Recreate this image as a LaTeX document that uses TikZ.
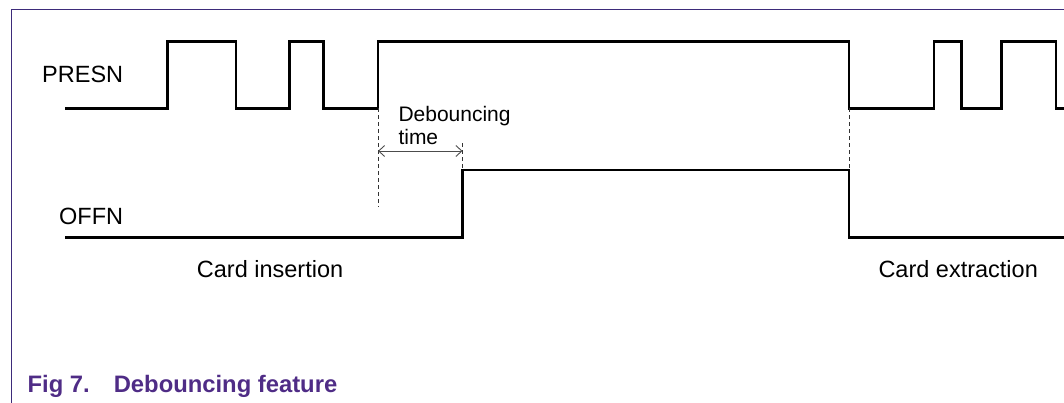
\documentclass[tikz,border=0pt]{standalone}
\usepackage{fontspec}
\setmainfont{Liberation Sans}
\usetikzlibrary{arrows.meta}
\definecolor{framepurple}{HTML}{3D2B7A}
\definecolor{cappurple}{HTML}{4F2C86}
\begin{document}
\begin{tikzpicture}[x=1pt,y=-1pt,
  signal/.style={line width=2.7pt,line join=miter},
  guide/.style={line width=0.8pt,dash pattern=on 4pt off 3pt,black!80},
  dim/.style={line width=0.9pt,black!70,{Straight Barb[length=6pt,width=11pt]}-{Straight Barb[length=6pt,width=11pt]}},
  lbl/.style={inner sep=0pt,anchor=base west,font=\fontsize{23.5}{28}\selectfont},
  smalllbl/.style={inner sep=0pt,anchor=base west,font=\fontsize{21}{25}\selectfont},
  captext/.style={inner sep=0pt,anchor=base west,font=\fontsize{23.8}{28}\selectfont\bfseries,text=cappurple}]
\useasboundingbox (0,0) rectangle (1064,403);
% frame
\draw[framepurple,line width=1pt] (11.5,403) -- (11.5,9.3) -- (1064,9.3);
% PRESN signal
\coordinate (pA) at (378,108.3);
\coordinate (pB) at (849,108.3);
\draw[signal] (65.4,108.3) -- (167.7,108.3) -- (167.7,41.7) -- (235.9,41.7) -- (235.9,108.3)
  -- (289.3,108.3) -- (289.3,41.7) -- (323.7,41.7) -- (323.7,108.3) -- (pA)
  -- (378,41.7) -- (849,41.7) -- (pB) -- (934,108.3) -- (934,41.7)
  -- (961.4,41.7) -- (961.4,108.3) -- (1001.6,108.3) -- (1001.6,41.7)
  -- (1056,41.7) -- (1056,108.3) -- (1066,108.3);
% OFFN signal
\coordinate (oA) at (462.5,170);
\coordinate (oB) at (849,170);
\draw[signal] (65.4,237.3) -- (462.5,237.3) -- (oA) -- (oB) -- (849,237.3) -- (1066,237.3);
% guides
\coordinate (gA) at (378,206.7);
\coordinate (gT) at (462.5,143.3);
\draw[guide] (pA) -- (gA);
\draw[guide] (pB) -- (oB);
\draw[guide] (gT) -- (oA);
\coordinate (dL) at (378,151);
\coordinate (dR) at (462.5,151);
\draw[dim] (dL) -- (dR);
% labels
\node[lbl] (presn) at (42,82.7) {PRESN};
\node[lbl] (offn) at (59,225) {OFFN};
\node[smalllbl] (deb) at (398.3,121.7) {Debouncing};
\node[smalllbl] (time) at (398.3,145) {time};
\node[lbl] (ins) at (196.7,277.5) {Card insertion};
\node[lbl] (ext) at (878.3,277.5) {Card extraction};
\node[captext] (fig) at (27.5,392.7) {Fig 7.};
\node[captext] (title) at (113.6,392.7) {Debouncing feature};
\end{tikzpicture}
\end{document}
